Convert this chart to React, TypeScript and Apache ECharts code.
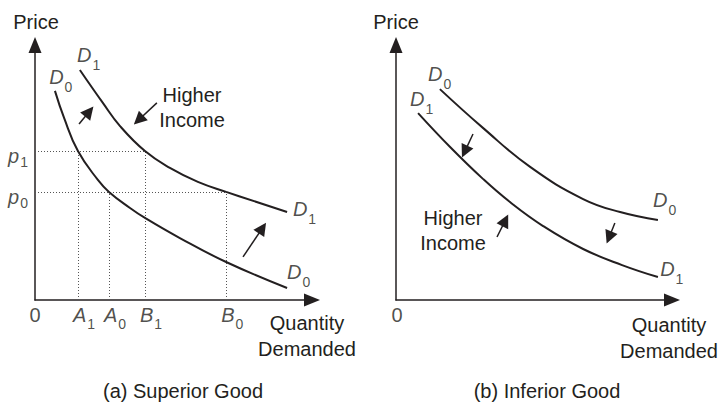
import React, { useEffect, useRef } from "react";
import * as echarts from "echarts";

// ---- Data (quantity on x, price on y; arbitrary units 0..10) ----
const qTickNames = ["A1", "A0", "B1", "B0"];
const qTickValues = [1.55, 2.67, 3.97, 6.9];
const pTickNames = ["p1", "p0"];
const pTickValues = [5.84, 4.24];

const superiorD0 = [
  [0.72, 8.2], [1.05, 7.14], [1.55, 5.84], [2.27, 4.71], [2.67, 4.24],
  [3.43, 3.61], [3.97, 3.22], [5.23, 2.43], [6.9, 1.49], [9.1, 0.47],
];
const superiorD1 = [
  [1.62, 9.02], [2.45, 7.73], [3.07, 6.82], [3.97, 5.84], [4.87, 5.18],
  [5.88, 4.63], [6.9, 4.24], [9.1, 3.45],
];
const inferiorD0 = [
  [1.59, 8.27], [3.15, 6.75], [4.86, 5.22], [6.78, 3.96], [8.12, 3.45], [9.49, 3.14],
];
const inferiorD1 = [
  [0.8, 7.33], [1.96, 6.0], [3.15, 4.75], [4.13, 3.84], [5.33, 2.9],
  [6.78, 2.0], [8.19, 1.37], [9.49, 0.9],
];

// curve name labels (top-left anchor, data units)
const superiorCurveLabels = [
  { name: "D1", value: [1.52, 10.0] },
  { name: "D0", value: [0.51, 9.14] },
  { name: "D1", value: [9.31, 3.96] },
  { name: "D0", value: [9.1, 1.49] },
];
const inferiorCurveLabels = [
  { name: "D0", value: [1.16, 9.25] },
  { name: "D1", value: [0.51, 8.27] },
  { name: "D0", value: [9.31, 4.31] },
  { name: "D1", value: [9.57, 1.61] },
];

// shift arrows (tail -> head)
const superiorArrows = [
  [[1.59, 6.9], [1.96, 7.39]],
  [[4.4, 7.73], [3.74, 7.06]],
  [[7.51, 1.69], [8.21, 2.82]],
];
const inferiorArrows = [
  [[2.79, 6.51], [2.49, 5.82]],
  [[7.93, 3.02], [7.72, 2.45]],
  [[3.66, 2.47], [3.96, 3.12]],
];

const INK = "#231f20";
const FONT = '"Liberation Sans", Arial, Helvetica, sans-serif';

function richName(name: string, subStyle: string) {
  if (name.length === 1) return `{n|${name}}`;
  return `{v|${name[0]}}{${subStyle}|${name.slice(1)}}`;
}

const richStyles = {
  v: { fontFamily: FONT, fontSize: 20, fontStyle: "italic", color: INK, lineHeight: 22, verticalAlign: "top" },
  n: { fontFamily: FONT, fontSize: 20, color: INK, lineHeight: 22, verticalAlign: "top" },
  s: { fontFamily: FONT, fontSize: 14, color: INK, lineHeight: 14, verticalAlign: "top", padding: [13, 0, 0, 1] },
  sa: { fontFamily: FONT, fontSize: 14, color: INK, lineHeight: 14, verticalAlign: "top", padding: [12, 0, 0, 1] },
  sp: { fontFamily: FONT, fontSize: 14, color: INK, lineHeight: 14, verticalAlign: "top", padding: [9, 0, 0, 1] },
};

function axisPair(gi: number) {
  const axisLine = {
    show: true,
    symbol: ["none", "triangle"],
    symbolSize: [13, 16],
    lineStyle: { color: INK, width: 1.5 },
  };
  const common = {
    type: "value",
    gridIndex: gi,
    min: 0,
    max: 10,
    axisLine,
    axisTick: { show: false },
    axisLabel: { show: false },
    splitLine: { show: false },
  };
  return { x: { ...common }, y: { ...common } };
}

function curve(data: number[][], gi: number) {
  return {
    type: "line",
    xAxisIndex: gi,
    yAxisIndex: gi,
    data,
    smooth: 0.45,
    showSymbol: false,
    symbol: "none",
    lineStyle: { color: INK, width: 2 },
    z: 5,
    silent: true,
  };
}

function arrows(list: number[][][], gi: number) {
  return {
    type: "lines",
    coordinateSystem: "cartesian2d",
    xAxisIndex: gi,
    yAxisIndex: gi,
    data: list.map((c) => ({ coords: c })),
    symbol: ["none", "triangle"],
    symbolSize: 13,
    lineStyle: { color: INK, width: 1.5, opacity: 1, curveness: 0 },
    itemStyle: { color: INK },
    z: 6,
    silent: true,
  };
}

function textLabels(items: any[], gi: number, sub: string, labelOpts: any) {
  return {
    type: "scatter",
    xAxisIndex: gi,
    yAxisIndex: gi,
    data: items,
    symbolSize: 0,
    clip: false,
    silent: true,
    z: 7,
    label: {
      show: true,
      position: "inside",
      formatter: (p: any) => richName(p.name, sub),
      rich: richStyles,
      ...labelOpts,
    },
  };
}

export default function App() {
  const ref = useRef<HTMLDivElement>(null);

  useEffect(() => {
    if (!ref.current) return;
    const chart = echarts.init(ref.current, null, { renderer: "svg" });

    const a0 = axisPair(0);
    const a1 = axisPair(1);

    const guideCoords: number[][][] = [
      [[0, pTickValues[0]], [qTickValues[2], pTickValues[0]]],
      [[qTickValues[0], 0], [qTickValues[0], pTickValues[0]]],
      [[qTickValues[2], 0], [qTickValues[2], pTickValues[0]]],
      [[0, pTickValues[1]], [qTickValues[3], pTickValues[1]]],
      [[qTickValues[1], 0], [qTickValues[1], pTickValues[1]]],
      [[qTickValues[3], 0], [qTickValues[3], pTickValues[1]]],
    ];

    const textStyle = (text: string, x: number, y: number, align: string, va: string, lh = 22) => ({
      type: "text",
      x,
      y,
      silent: true,
      style: {
        text,
        fontFamily: FONT,
        fontSize: 20,
        fill: INK,
        align,
        verticalAlign: va,
        lineHeight: lh,
      },
    });

    chart.setOption({
      animation: false,
      backgroundColor: "#ffffff",
      grid: [
        { left: 35, top: 45, width: 277, height: 255, containLabel: false },
        { left: 396, top: 45, width: 276, height: 255, containLabel: false },
      ],
      xAxis: [a0.x, a1.x],
      yAxis: [a0.y, a1.y],
      series: [
        {
          type: "lines",
          coordinateSystem: "cartesian2d",
          xAxisIndex: 0,
          yAxisIndex: 0,
          data: guideCoords.map((c) => ({ coords: c })),
          lineStyle: { color: "#555", width: 1, type: [1, 2], opacity: 1 },
          z: 3,
          silent: true,
        },
        curve(superiorD0, 0),
        curve(superiorD1, 0),
        curve(inferiorD0, 1),
        curve(inferiorD1, 1),
        arrows(superiorArrows, 0),
        arrows(inferiorArrows, 1),
        textLabels(superiorCurveLabels, 0, "s", { align: "left", verticalAlign: "top" }),
        textLabels(inferiorCurveLabels, 1, "s", { align: "left", verticalAlign: "top" }),
        textLabels(
          qTickNames.map((n, i) => ({ name: n, value: [qTickValues[i], 0] })),
          0, "sa", { align: "left", verticalAlign: "top", offset: [-5, 5] }
        ),
        textLabels(
          pTickNames.map((n, i) => ({ name: n, value: [0, pTickValues[i]] })),
          0, "sp", { align: "right", verticalAlign: "top", offset: [-7, -5] }
        ),
        textLabels([{ name: "0", value: [0, 0] }], 0, "s", { align: "center", verticalAlign: "top", offset: [0, 5] }),
        textLabels([{ name: "0", value: [0, 0] }], 1, "s", { align: "center", verticalAlign: "top", offset: [1, 5] }),
      ],
      graphic: [
        textStyle("Price", 36, 22, "center", "middle"),
        textStyle("Price", 396, 22, "center", "middle"),
        textStyle("Quantity\nDemanded", 307, 310, "center", "top", 26),
        textStyle("Quantity\nDemanded", 669, 312, "center", "top", 26),
        textStyle("Higher\nIncome", 192, 82, "center", "top", 25),
        textStyle("Higher\nIncome", 453, 205, "center", "top", 25),
        textStyle("(a) Superior Good", 183, 391, "center", "middle"),
        textStyle("(b) Inferior Good", 547, 391, "center", "middle"),
      ],
    });

    return () => chart.dispose();
  }, []);

  return (
    <div
      ref={ref}
      style={{ position: "fixed", left: 0, top: 0, width: 724, height: 402, background: "#fff" }}
    />
  );
}
